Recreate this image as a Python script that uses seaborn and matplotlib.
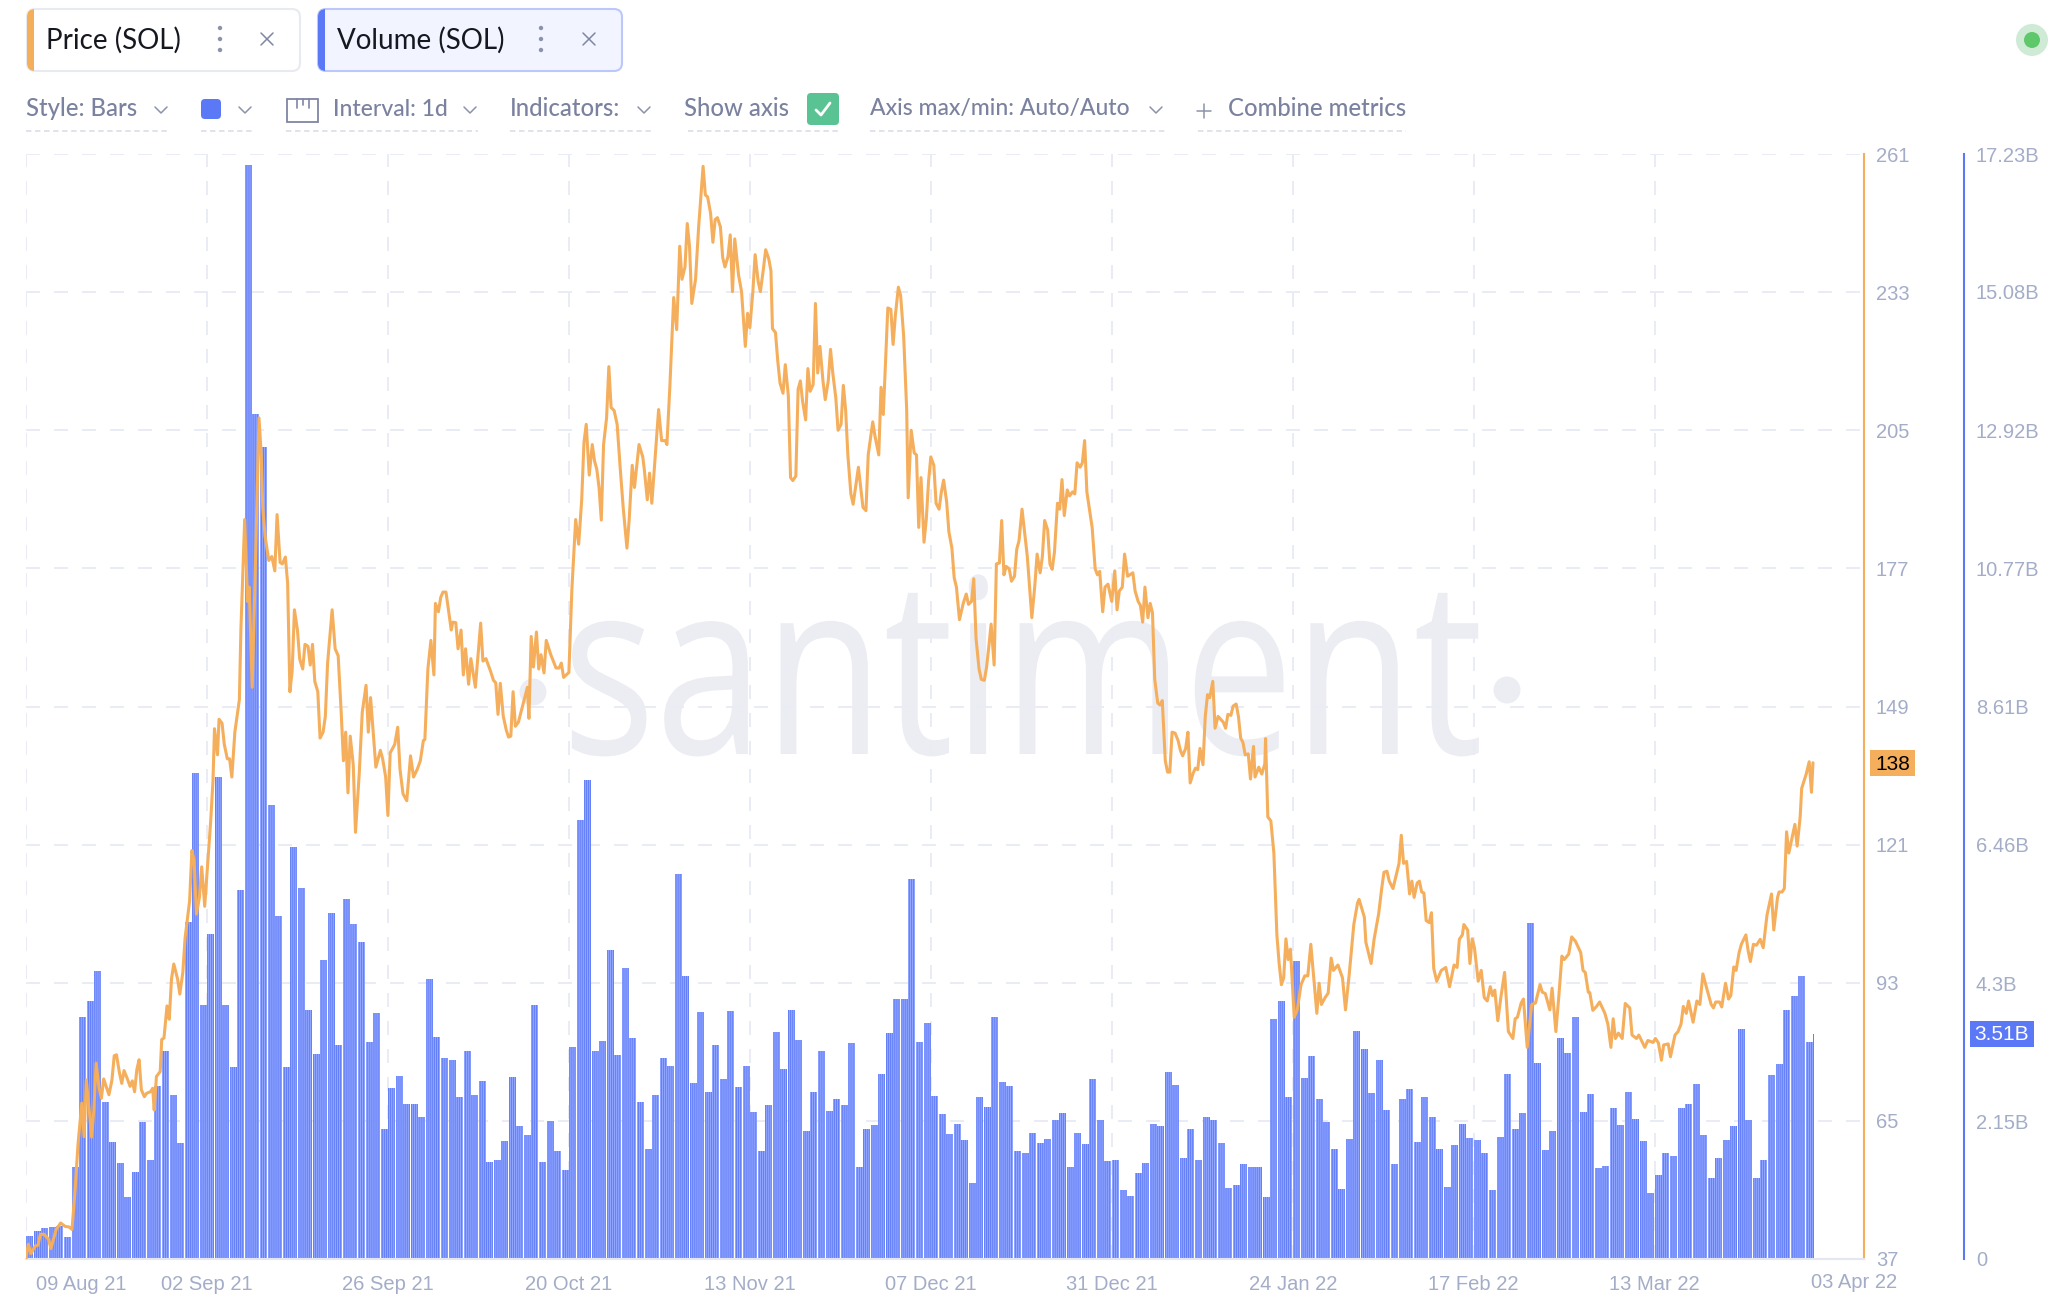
import matplotlib
import matplotlib.patheffects as path_effects
import matplotlib.pyplot as plt
import pandas as pd
import seaborn as sns
from matplotlib.patches import Circle, FancyBboxPatch, Rectangle
from matplotlib.transforms import Affine2D, ScaledTranslation

matplotlib.use("Agg")

# daily volume in billions of SOL, one bar per day from 09 Aug 21
volume_b = [
    0.36, 0.43, 0.49, 0.50, 0.52, 0.35, 1.44, 3.78, 4.03, 4.49, 2.45, 1.83, 1.50, 0.96, 1.36, 2.14,
    1.54, 2.69, 3.25, 2.56, 1.81, 5.26, 7.58, 3.96, 5.06, 7.52, 3.96, 2.99, 5.76, 17.06, 13.18, 12.66,
    7.08, 5.35, 3.00, 6.43, 5.78, 3.89, 3.20, 4.66, 5.40, 3.34, 5.61, 5.23, 4.94, 3.38, 3.84, 2.02,
    2.66, 2.86, 2.41, 2.41, 2.22, 4.37, 3.46, 3.13, 3.10, 2.52, 3.25, 2.56, 2.77, 1.51, 1.55, 1.84,
    2.84, 2.08, 1.93, 3.96, 1.52, 2.15, 1.68, 1.39, 3.30, 6.85, 7.47, 3.24, 3.40, 4.82, 3.18, 4.54,
    3.45, 2.45, 1.71, 2.56, 3.14, 3.01, 6.01, 4.42, 2.74, 3.85, 2.60, 3.33, 2.81, 3.86, 2.68, 3.01,
    2.29, 1.69, 2.40, 3.54, 2.97, 3.89, 3.42, 1.99, 2.61, 3.24, 2.31, 2.49, 2.40, 3.37, 1.43, 2.02,
    2.09, 2.88, 3.52, 4.06, 4.05, 5.93, 3.39, 3.68, 2.54, 2.26, 1.95, 2.10, 1.86, 1.19, 2.53, 2.37,
    3.77, 2.76, 2.69, 1.68, 1.66, 1.97, 1.81, 1.87, 2.17, 2.27, 1.43, 1.96, 1.79, 2.81, 2.16, 1.53,
    1.55, 1.07, 0.99, 1.34, 1.49, 2.10, 2.08, 2.91, 2.71, 1.58, 2.03, 1.54, 2.22, 2.16, 1.81, 1.11,
    1.16, 1.48, 1.44, 1.43, 0.97, 3.75, 4.03, 2.53, 4.65, 2.83, 3.16, 2.50, 2.14, 1.71, 1.09, 1.87,
    3.56, 3.28, 2.59, 3.11, 2.32, 1.48, 2.49, 2.65, 1.83, 2.52, 2.22, 1.71, 1.13, 1.77, 2.11, 1.89,
    1.85, 1.65, 1.07, 1.90, 2.88, 2.03, 2.27, 5.24, 3.06, 1.70, 1.99, 3.45, 3.21, 3.78, 2.29, 2.57,
    1.42, 1.45, 2.36, 2.09, 2.60, 2.18, 1.84, 1.03, 1.31, 1.66, 1.61, 2.35, 2.42, 2.73, 1.93, 1.27,
    1.58, 1.86, 2.08, 3.59, 2.16, 1.27, 1.55, 2.87, 3.04, 3.89, 4.10, 4.42, 3.38, 3.51,
]

# price trace: days since 09 Aug 21 and price in USD
price_days = [
    0, .3, .66, 1.2, 1.6, 1.9, 2.4, 3, 3.3, 4, 4.6, 5.2, 5.7, 6.1, 6.5, 6.9, 7.4, 7.7, 8, 8.4, 8.7, 9, 9.3, 9.7,
    10, 10.3, 11, 11.4, 11.7, 12, 12.4, 12.7, 13, 13.4, 13.8, 14.1, 14.4, 14.7, 15, 15.3, 15.7, 16, 16.5, 16.8,
    17, 17.3, 17.8, 18, 18.3, 18.7, 19, 19.3, 19.6, 20.1, 20.4, 20.8, 21.1, 21.7, 22, 22.3, 22.6, 23, 23.3, 23.7,
    24, 24.5, 24.8, 25, 25.4, 25.6, 26, 26.3, 26.7, 27, 27.3, 27.7, 28.3, 28.5, 29, 29.4, 29.6, 30, 30.4, 30.9,
    31.2, 31.4, 31.7, 32.2, 32.6, 33, 33.3, 33.7, 34, 34.4, 34.7, 35, 35.3, 35.6, 36, 36.3, 36.7, 37, 37.4, 37.7,
    38, 38.3, 38.7, 39, 39.4, 39.7, 40, 40.6, 41, 41.4, 41.8, 42.1, 42.4, 42.7, 43, 43.4, 43.7, 44.2, 44.6, 45.1,
    45.4, 45.7, 46.4, 47, 47.3, 47.7, 48, 48.3, 48.9, 49.3, 49.6, 50, 50.5, 51, 51.4, 51.9, 52.3, 52.7, 52.9, 53.3,
    53.7, 54.1, 54.3, 54.7, 55, 55.3, 55.7, 56.4, 56.6, 57, 57.3, 57.7, 58, 58.3, 58.7, 59, 59.6, 60.3, 60.6, 61,
    61.6, 62, 62.3, 62.6, 62.9, 63.3, 63.7, 64, 64.3, 64.6, 64.9, 65.3, 66.5, 66.7, 67, 67.3, 67.7, 68, 68.3, 68.7,
    69, 69.6, 70.3, 70.7, 71, 71.3, 72, 72.4, 72.9, 73.3, 73.7, 74, 74.3, 74.7, 75.1, 75.4, 75.7, 76, 76.3, 76.6,
    77, 77.3, 77.6, 78, 78.4, 78.8, 79.2, 79.7, 80, 80.4, 80.7, 81.3, 81.8, 82, 82.4, 82.7, 83, 83.5, 83.9, 84.3,
    84.8, 85, 85.4, 85.9, 86.3, 86.7, 87, 87.4, 87.7, 88, 88.3, 88.8, 89.2, 89.8, 90.1, 90.4, 90.8, 91.1, 91.4, 91.7,
    92.1, 92.4, 92.7, 93.1, 93.4, 93.7, 94, 94.5, 94.9, 95.4, 95.7, 96, 96.4, 96.7, 97.1, 97.4, 97.8, 98.1, 98.5, 98.8,
    99, 99.4, 99.7, 100, 100.4, 100.7, 101.1, 101.4, 101.7, 102.1, 102.4, 102.7, 103, 103.4, 103.7, 104, 104.4, 104.7,
    105, 105.3, 105.7, 106, 106.4, 106.7, 107, 107.4, 107.7, 108.1, 108.4, 108.7, 109, 109.4, 109.7, 110.4, 111, 111.4,
    111.7, 112.3, 112.6, 113.1, 113.4, 113.7, 114.3, 114.7, 115, 115.3, 115.7, 116, 116.4, 116.8, 117, 117.4, 117.8, 118.1,
    118.4, 118.7, 119.1, 119.4, 119.7, 120, 120.4, 120.7, 121.1, 121.4, 121.7, 122.1, 122.4, 122.8, 123.1, 123.4, 123.8, 124.3,
    124.7, 125, 125.4, 125.7, 126, 126.4, 126.7, 127.1, 127.4, 127.7, 128, 128.4, 128.7, 129.1, 129.4, 129.7, 130, 130.4,
    130.7, 131.1, 131.4, 131.7, 132.1, 132.8, 133.4, 133.8, 134.1, 134.5, 134.8, 135.1, 135.5, 135.8, 136.1, 136.4, 136.8, 137.1,
    137.4, 137.7, 138.1, 138.4, 138.8, 139.1, 139.4, 139.8, 140.1, 140.4, 140.7, 141, 141.4, 141.8, 142.1, 142.4, 142.8, 143.1,
    143.5, 144, 144.4, 144.7, 145, 145.4, 145.7, 146.1, 146.8, 147.1, 147.5, 147.8, 148.1, 148.4, 148.8, 149.1, 149.4, 149.7,
    150.1, 150.4, 150.7, 151.1, 151.4, 151.7, 152, 152.4, 152.8, 153.1, 153.4, 153.8, 154.1, 154.4, 154.8, 155.1, 155.4, 155.7,
    156.1, 156.4, 156.7, 157, 157.4, 157.7, 158.1, 158.8, 159.1, 159.4, 159.8, 160.1, 160.5, 160.8, 161.1, 161.4, 161.7, 162.1,
    162.4, 162.8, 163, 163.5, 163.9, 164.3, 164.4, 164.7, 165.1, 165.5, 165.9, 166.2, 166.5, 166.8, 167.1, 167.4, 167.7, 168.2,
    168.6, 169.1, 169.6, 170, 170.4, 170.9, 171.2, 171.5, 171.8, 172.3, 172.7, 173.1, 173.4, 174, 174.6, 175, 175.5, 175.8,
    176.1, 176.6, 176.8, 177.5, 177.7, 178.4, 178.8, 179.4, 179.8, 180.1, 180.5, 180.8, 181.3, 182.1, 182.4, 182.7, 183.1, 183.5,
    183.8, 184.1, 184.5, 184.8, 185.1, 185.4, 185.7, 186.1, 186.4, 186.7, 187.1, 187.7, 188.3, 188.8, 189.4, 189.8, 190.1, 190.5,
    190.7, 191.2, 191.5, 191.8, 192.1, 192.6, 193, 193.4, 193.8, 194.2, 194.5, 194.8, 195.2, 195.6, 196.1, 196.6, 197.2, 197.5,
    197.8, 198.3, 198.6, 199.1, 199.7, 200.2, 200.8, 201.1, 201.5, 202.1, 202.4, 202.9, 203.3, 203.7, 204, 204.6, 205, 205.5,
    206.2, 206.5, 206.8, 207.2, 207.4, 207.8, 208.3, 208.7, 209.4, 209.8, 210.2, 210.5, 210.8, 211.2, 211.7, 212.1, 212.7, 213,
    213.6, 213.9, 214.7, 215.1, 215.8, 216.1, 216.5, 216.9, 217.2, 217.8, 218.1, 218.7, 219.1, 219.5, 219.8, 220.2, 220.5, 221.1,
    221.6, 222, 222.4, 222.9, 223.5, 223.8, 224.1, 224.6, 224.9, 225.4, 225.8, 226.1, 226.5, 226.8, 227.2, 227.5, 228.1, 228.4,
    228.7, 229.1, 229.5, 230, 230.4, 230.9, 231.5, 231.8, 232.3, 232.5, 232.9, 233.2, 233.5, 233.8, 234.6, 234.9, 235.3, 235.5,
    236.1, 236.5, 236.8, 237,
]
price_usd = [
    37.1, 40, 38.1, 39.6, 39.8, 42, 42, 41, 39.1, 43, 44.3, 43.6, 43.5, 43, 50.8, 60.3, 68.6, 61.8, 73.3, 66.9, 61.7, 67.2, 76.7, 71.6,
    69.6, 73.5, 70.3, 73.3, 78.2, 78.4, 74.7, 72.6, 75.2, 73.7, 72, 73.1, 70.9, 75.4, 77.4, 71.3, 69.9, 70.6, 70.9, 71.6,
    67.2, 74, 75, 81.5, 81.8, 88.3, 85.6, 93.8, 96.8, 93.8, 90.7, 95.1, 102.1, 109.6, 119.8, 117.8, 106.9, 110.3, 116.5, 108.5,
    115, 125.9, 134, 144.5, 139.2, 146.4, 145.6, 141.3, 138.4, 138.4, 134.7, 143.8, 150.4, 164.5, 186.9, 170.3, 173.2, 152.9, 176.1, 207.5,
    200, 189.4, 183.6, 178.6, 179.4, 176.5, 187.9, 178.2, 177.9, 179.3, 174, 152, 156.2, 168.6, 164.5, 158.6, 156.6, 161.6, 161.2, 157.4,
    161.6, 154.1, 152, 142.6, 143.8, 147, 157.8, 168.6, 160.7, 159.3, 147.9, 138, 143.8, 131.5, 143, 137.2, 123.5, 135.5, 147.9, 153.3,
    143.8, 150.8, 136.7, 140.1, 138.4, 134.7, 126.9, 139.6, 141.3, 144.8, 136.3, 131.3, 129.9, 139, 134.7, 136.3, 138, 142.1, 142.3, 156.6,
    162.4, 155.4, 169.9, 168.2, 171.1, 172.2, 172.2, 164.5, 166.1, 166, 160.7, 164.5, 155.4, 160.7, 153.5, 158.7, 152.9, 165.9, 158.2, 158.7,
    156.2, 154.3, 153.8, 147.4, 153.7, 147, 144.2, 142.8, 143, 152, 145, 145.8, 152.9, 146.6, 163.2, 157, 164.1, 156.6, 159.5, 155.8,
    162.4, 159.5, 156.8, 156.8, 157.8, 154.9, 155.9, 172.8, 186.9, 181.9, 190.9, 202.5, 206.2, 195.9, 202.1, 198.8, 197.1, 193.4, 186.8, 202.1,
    207.5, 217.9, 209.6, 209, 206.2, 197.5, 189.4, 181.1, 186.9, 197.9, 193.4, 202.1, 199.6, 197.1, 190.9, 196.3, 190.2, 200.8, 209.2, 202.9,
    202.9, 202.1, 214.1, 231.9, 225.4, 242.3, 235.6, 238.1, 246.9, 242.3, 230.7, 235.6, 246, 258.5, 252.7, 252.3, 248.9, 243.1, 247.7, 248.1,
    246.2, 240, 238.1, 240.2, 244.6, 233.1, 243.8, 236.5, 233.1, 222, 228.7, 225.8, 233.1, 240.6, 235.2, 233.1, 237.7, 241.6, 239.8, 237.3,
    225.6, 224.8, 219.1, 214.6, 212.5, 218.3, 212.1, 195.4, 194.8, 195.7, 213.3, 215, 210.8, 207.1, 217.5, 212.9, 214.3, 230.7,
    216.6, 222, 215, 211.2, 215, 221.4, 216.6, 211.6, 205, 206.2, 214.1, 209.2, 200, 192.1, 190, 197.5, 189.4, 188.7,
    200, 206.7, 203.8, 200, 213.7, 208.2, 229.8, 229.5, 222.4, 228.3, 234, 232.3, 224.1, 209.2, 191.3, 205, 200.4, 200,
    185.3, 195.4, 182.3, 186.9, 194.6, 199.6, 197.9, 190.2, 189, 192.5, 194.9, 190.5, 184.4, 181.1, 175.1, 173.2, 166.6, 169.9,
    171.8, 169.7, 170.3, 174.9, 162.8, 156.6, 154.5, 154.3, 157, 161.2, 165.7, 157.4, 177.9, 178.1, 186.7, 175.7, 177.4, 176.9,
    174.4, 175.4, 180.9, 182.6, 189, 179.4, 167, 173.6, 179.9, 176.1, 179.4, 186.7, 184.8, 177.9, 176.8, 180.3, 190.2, 189,
    195, 187.7, 192.9, 191.7, 192.5, 192.1, 198.4, 197.5, 198.4, 202.9, 192.5, 189.4, 185.3, 176.9, 175.7, 176.4, 168.2, 173.2,
    173.8, 170.3, 176.5, 168.6, 172.4, 173.2, 179.9, 175.4, 176.1, 172.4, 170.3, 169.5, 166.1, 173.2, 167, 169.9, 168, 154.5,
    149.7, 149.3, 150.2, 138, 135.7, 135.7, 143.8, 143.6, 142.1, 140.1, 139, 140.5, 143.8, 133.5, 135.5, 136.5, 136.2, 140.5,
    137.2, 147, 151.4, 150.8, 154.1, 144.6, 147, 145.8, 144.6, 147.4, 147.2, 149.1, 149.5, 147, 142.6, 141.7, 139.2, 139.4,
    134.3, 140.9, 134.7, 136.7, 135.3, 137.4, 142.5, 126.6, 125.8, 119.3, 102.7, 96.9, 92.6, 94, 101.9, 97.7, 99.8, 86,
    87.5, 92.6, 94.4, 94.4, 100.8, 91.9, 86.8, 92.9, 88.6, 90, 90.9, 98, 95.5, 96.6, 94, 87.5, 94.8, 99.8,
    104.8, 109.2, 109.9, 106.3, 101.2, 96.9, 101.9, 107, 112.1, 115.4, 115.6, 113.6, 112.1, 117.2, 122.9, 117.2, 117.6, 111,
    113.6, 110.3, 113.2, 113.6, 111.4, 111.2, 105.6, 105.2, 107.2, 95.9, 93.3, 95.5, 96.1, 92.2, 96.6, 96.1, 101.8, 102.7,
    104.8, 103.7, 96.9, 101.9, 100.1, 93.3, 95.5, 90, 89.3, 92.2, 90.4, 91.5, 85.3, 90, 95.1, 83.1, 81.7, 85.7,
    86, 88.9, 89.7, 79.9, 88.6, 88.9, 92.6, 91.1, 90.8, 87.5, 91.9, 83.1, 90.4, 98.4, 97.7, 98.8, 102.3, 101.4,
    99.1, 95.5, 95.1, 91.1, 91, 87.4, 88.2, 89.1, 86.8, 84.6, 79.9, 85.7, 81.7, 82.8, 81.7, 88.8, 87.9, 82.4,
    81.7, 82.4, 79.9, 81.3, 80.9, 81.7, 80.8, 77.3, 80.4, 80.6, 78, 82.4, 83.1, 84.6, 88.2, 86.8, 89.3, 85,
    89.3, 88.6, 94.8, 91.9, 88.6, 87.9, 89.1, 89.1, 88.1, 92.9, 89.7, 90.4, 96.2, 95.5, 99.1, 100.8, 102.7, 99.5,
    97.3, 100.8, 100.6, 101.8, 100.1, 106.7, 111, 103.7, 110.3, 111.4, 111.4, 112.1, 123.6, 119.3, 125.1, 120.7, 126.6, 132.4,
    135.3, 137.8, 131.6, 137.6,
]

price_ticks = [37, 65, 93, 121, 149, 177, 205, 233, 261]
volume_ticks = [0, 2.15, 4.3, 6.46, 8.61, 10.77, 12.92, 15.08, 17.23]
volume_tick_labels = ["0", "2.15B", "4.3B", "6.46B", "8.61B", "10.77B", "12.92B", "15.08B", "17.23B"]
date_ticks = [0, 24, 48, 72, 96, 120, 144, 168, 192, 216]
date_labels = ["09 Aug 21", "02 Sep 21", "26 Sep 21", "20 Oct 21", "13 Nov 21",
               "07 Dec 21", "31 Dec 21", "24 Jan 22", "17 Feb 22", "13 Mar 22"]

ORANGE = "#F5AE5B"
BLUE = "#5B78F6"
GRID = "#E9EBF5"
WATERMARK = "#ECEDF3"
TICK_TEXT = "#A4ADC8"
UI_TEXT = "#7B829F"
W, H = 2066, 1308
TICK_SIZE = 14.5


class SqueezeX(path_effects.AbstractPathEffect):
    """Narrow a text horizontally around a display x, the logo font is condensed."""

    def __init__(self, factor, x0):
        super().__init__()
        self.factor = factor
        self.x0 = x0

    def draw_path(self, renderer, gc, tpath, affine, rgbFace=None):
        squeeze = Affine2D().translate(-self.x0, 0).scale(self.factor, 1).translate(self.x0, 0)
        renderer.draw_path(gc, tpath, affine + squeeze, rgbFace)


sns.set_theme(style="white")
plt.rcParams["font.family"] = ["Liberation Sans", "DejaVu Sans"]
plt.rcParams["hatch.linewidth"] = 0.6

fig = plt.figure(figsize=(W / 100, H / 100), dpi=100)

# watermark sits behind everything, in screenshot pixel coordinates
bg = fig.add_axes([0, 0, 1, 1], zorder=-1)
bg.set_xlim(0, W)
bg.set_ylim(H, 0)
bg.axis("off")
bg.text(562, 754, "santiment", fontsize=176, family="Open Sans", color=WATERMARK, ha="left", va="baseline",
        path_effects=[SqueezeX(0.8, 562)])
bg.add_patch(Circle((533, 692), 13.5, facecolor=WATERMARK, edgecolor="none"))
bg.add_patch(Circle((1507, 690), 13.5, facecolor=WATERMARK, edgecolor="none"))

rect = [26 / W, 1 - 1259 / H, (1864 - 26) / W, (1259 - 154) / H]
ax_vol = fig.add_axes(rect)
ax_price = fig.add_axes(rect, sharex=ax_vol)
ax_vol.patch.set_visible(False)
ax_price.patch.set_visible(False)

vol_df = pd.DataFrame({"day": [i + 0.5 for i in range(len(volume_b))], "volume": volume_b})
price_df = pd.DataFrame({"day": price_days, "price": price_usd})

sns.barplot(data=vol_df, x="day", y="volume", native_scale=True, width=0.93, color="#8CA1FF",
            saturation=1, ax=ax_vol, zorder=2)
for bar in ax_vol.patches:
    bar.set_hatch("||||||||")
    bar.set_edgecolor(BLUE)
    bar.set_linewidth(0)
    bar.set_alpha(0.96)
ax_vol.patches[-1].set_width(0.15)
ax_vol.patches[-1].set_x(237)

sns.lineplot(data=price_df, x="day", y="price", color=ORANGE, linewidth=2.2, estimator=None,
             sort=False, ax=ax_price, zorder=3)

ax_vol.set_xlim(0, (1864 - 26) / 7.54)
ax_vol.set_ylim(0, 17.23)
ax_price.set_ylim(37, 261)
ax_vol.set_xlabel("")
ax_vol.set_ylabel("")
ax_price.set_xlabel("")
ax_price.set_ylabel("")

# horizontal and vertical dashed grid sits under the bars
ax_vol.set_axisbelow(True)
ax_vol.set_xticks(date_ticks, date_labels)
ax_vol.set_yticks(volume_ticks, volume_tick_labels)
ax_price.set_yticks(price_ticks)
ax_vol.grid(True, color=GRID, linewidth=1.44, linestyle=(0, (7, 7)))
ax_price.grid(False)

ax_vol.yaxis.tick_right()
ax_price.yaxis.tick_right()
ax_vol.tick_params(axis="y", length=0, pad=8.6, labelsize=TICK_SIZE, labelcolor=TICK_TEXT)
ax_price.tick_params(axis="y", length=0, pad=8.6, labelsize=TICK_SIZE, labelcolor=TICK_TEXT)
ax_vol.tick_params(axis="x", length=0, pad=11.5, labelsize=TICK_SIZE, labelcolor=TICK_TEXT)
ax_price.tick_params(axis="x", length=0, labelbottom=False)

for name in ["top", "left", "right", "bottom"]:
    ax_vol.spines[name].set_visible(False)
    ax_price.spines[name].set_visible(False)
ax_price.spines["right"].set_visible(True)
ax_price.spines["right"].set_color(ORANGE)
ax_price.spines["right"].set_linewidth(1.5)
ax_price.spines["bottom"].set_visible(True)
ax_price.spines["bottom"].set_color("#E4E6F0")
ax_price.spines["bottom"].set_linewidth(1.5)
ax_vol.spines["right"].set_visible(True)
ax_vol.spines["right"].set_color(BLUE)
ax_vol.spines["right"].set_linewidth(1.5)
ax_vol.spines["right"].set_position(("outward", 72))

first = ax_vol.get_xticklabels()[0]
first.set_ha("left")
first.set_transform(first.get_transform() + ScaledTranslation(10 / 100, 0, fig.dpi_scale_trans))

# page chrome, drawn in pixel coordinates of the screenshot
ui = fig.add_axes([0, 0, 1, 1], zorder=10)
ui.set_xlim(0, W)
ui.set_ylim(H, 0)
ui.axis("off")


def chip(x0, x1, face, edge, accent):
    box = FancyBboxPatch((x0, 9), x1 - x0, 62, boxstyle="round,pad=0,rounding_size=8",
                         facecolor=face, edgecolor=edge, linewidth=1.5)
    ui.add_patch(box)
    stripe = Rectangle((x0 - 1, 8), 8, 64, facecolor=accent, edgecolor="none")
    ui.add_patch(stripe)
    stripe.set_clip_path(box)


def chip_icons(dots_x, cross_x):
    for y in (28, 39, 50):
        ui.add_patch(Circle((dots_x, y), 2.2, facecolor="#8B92AB", edgecolor="none"))
    ui.plot([cross_x - 6, cross_x + 6], [33, 45], color="#7F86A3", lw=1.1)
    ui.plot([cross_x - 6, cross_x + 6], [45, 33], color="#7F86A3", lw=1.1)


def chevron(x, y=110):
    ui.plot([x - 6, x, x + 6], [y - 3, y + 3, y - 3], color="#8B92AB", lw=1.1)


def underline(x0, x1):
    ui.plot([x0, x1], [131, 131], color="#DDE0EA", lw=1.3, linestyle=(0, (3, 2)))


chip(27, 300, "white", "#E7EAF0", ORANGE)
chip(318, 622, "#F2F5FF", "#BCC8FB", BLUE)
ui.text(46, 40, "Price (SOL)", fontsize=20, family="Lato", color="#15181F", va="center")
ui.text(337, 40, "Volume (SOL)", fontsize=20, family="Lato", color="#15181F", va="center")
chip_icons(220, 267)
chip_icons(541, 589)

for x, label, size in [(26, "Style: Bars", 17.2), (333, "Interval: 1d", 16.5), (510, "Indicators:", 17.2),
                       (684, "Show axis", 17.2), (870, "Axis max/min: Auto/Auto", 16.5),
                       (1228, "Combine metrics", 17.2)]:
    ui.text(x, 109, label, fontsize=size, family="Lato", fontweight="medium", color=UI_TEXT, va="center")
for x in (161, 245, 470, 644, 1156):
    chevron(x)
for x0, x1 in [(26, 170), (201, 254), (286, 478), (510, 652), (688, 838), (870, 1165), (1198, 1406)]:
    underline(x0, x1)

ui.add_patch(FancyBboxPatch((201, 99), 20, 20, boxstyle="round,pad=0,rounding_size=4",
                            facecolor=BLUE, edgecolor="none"))
ui.add_patch(Rectangle((287, 99), 31, 23, facecolor="white", edgecolor="#7F86A3", linewidth=1.3))
for x, y1 in [(297, 108), (303, 105), (309, 108)]:
    ui.plot([x, x], [99, y1], color="#7F86A3", lw=1.2)
ui.add_patch(FancyBboxPatch((807, 93), 32, 32, boxstyle="round,pad=0,rounding_size=4",
                            facecolor="#5AC394", edgecolor="none"))
ui.plot([816, 821, 830], [110, 115, 103], color="white", lw=2)
ui.plot([1204, 1204], [104, 118], color="#8B92AB", lw=1.1)
ui.plot([1197, 1211], [111, 111], color="#8B92AB", lw=1.1)

ui.add_patch(Circle((2032, 40), 16, facecolor="#CFEBD6", edgecolor="none"))
ui.add_patch(Circle((2032, 40), 8, facecolor="#5FC86A", edgecolor="none"))

ui.text(1897, 1283, "03 Apr 22", fontsize=TICK_SIZE, color=TICK_TEXT, ha="right", va="center")
ui.add_patch(Rectangle((1870, 750), 45, 26, facecolor=ORANGE, edgecolor="none"))
ui.text(1892.5, 764, "138", fontsize=15, color="black", ha="center", va="center")
ui.add_patch(Rectangle((1970, 1021), 64, 26, facecolor=BLUE, edgecolor="none"))
ui.text(2002, 1035, "3.51B", fontsize=15, color="white", ha="center", va="center")

fig.savefig("out.png", dpi=100)
plt.close(fig)
